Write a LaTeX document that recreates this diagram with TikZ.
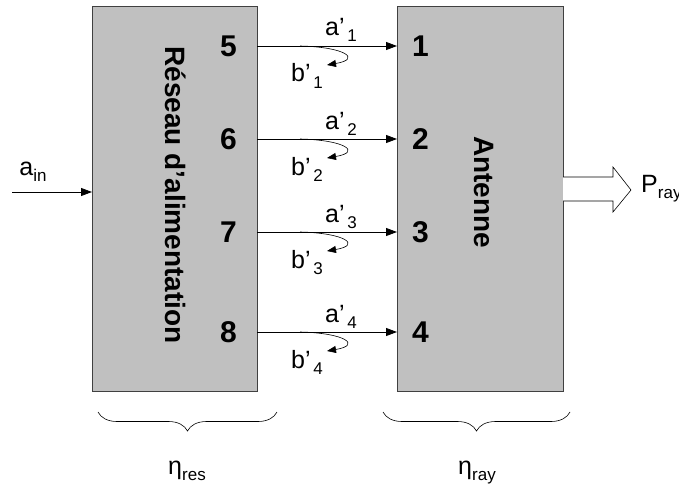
\documentclass[tikz,border=0pt]{standalone}
\usepackage{fontspec}
\setmainfont{Liberation Sans}
\usetikzlibrary{arrows.meta,decorations.pathreplacing}
\newcommand{\sbx}[1]{\raisebox{-6pt}{\fontsize{17}{17}\selectfont\,#1}}
\newcommand{\sbt}[1]{\raisebox{-6pt}{\fontsize{17}{17}\selectfont #1}}
\definecolor{boxgray}{HTML}{C0C0C0}
\definecolor{edgegray}{HTML}{404040}
\tikzset{
  blockbox/.style={draw=edgegray,line width=1pt,fill=boxgray},
  bignum/.style={font=\fontsize{30}{32}\selectfont\bfseries,inner sep=0pt},
  biglabel/.style={font=\fontsize{28}{30}\selectfont\bfseries,inner sep=0pt,rotate=-90},
  smalllabel/.style={font=\fontsize{25}{27}\selectfont,inner sep=0pt,anchor=base},
  sig/.style={line width=0.8pt,-{Triangle[length=11pt,width=8pt]}},
  curl/.style={line width=0.6pt,-{Triangle[length=9pt,width=7pt]}},
  bracestyle/.style={line width=0.6pt,decorate,decoration={brace,mirror,amplitude=19pt}}
}
\begin{document}
\begin{tikzpicture}[x=1pt,y=-1pt]
\useasboundingbox (0,0) rectangle (679,484);
% boxes
\path[blockbox] (92,7) rectangle (257,391);
\node[inner sep=0pt,minimum width=165pt,minimum height=384pt] (res) at (174.5,199) {};
\path[blockbox] (397,7) rectangle (563,391);
\node[inner sep=0pt,minimum width=166pt,minimum height=384pt] (ant) at (480,199) {};
\node[biglabel] (reslab) at (176,195) {Réseau d’alimentation};
\node[biglabel] (antlab) at (484,192) {Antenne};
% ports
\foreach \i/\j/\y in {5/1/46, 6/2/139, 7/3/232, 8/4/332}{
  \coordinate (p\i) at (257,\y);
  \coordinate (p\j) at (397,\y);
  \node[bignum] (n\i) at (228.5,\y) {\i};
  \node[bignum,anchor=west] (n\j) at (412,\y) {\j};
}
\foreach \s/\k/\y in {5/1/46, 6/2/139, 7/3/232, 8/4/332}{
  \draw[sig] (p\s) -- (p\k);
  \coordinate (c\k a) at (300,\y);
  \coordinate (c\k b) at (327,\y+19);
  \draw[curl] (c\k a) .. controls (345,\y+1) and (362,\y+13) .. (c\k b);
  \node[smalllabel] (a\k) at (341,\y-10) {a’\sbx{\k}};
  \node[smalllabel] (b\k) at (307,\y+36) {b’\sbx{\k}};
}
% input
\coordinate (ain) at (12,192);
\coordinate (resin) at (92,192);
\draw[sig] (ain) -- (resin);
\node[smalllabel] (ainlab) at (33,175) {a\sbt{in}};
% radiated power hollow arrow
\draw[line width=0.6pt,fill=white] (563,177) -- (613,177) -- (613,167) -- (631,190) -- (613,212) -- (613,201) -- (563,201);
\node[smalllabel,anchor=base west] (pray) at (641,192) {P\sbt{ray}};
% braces
\coordinate (bl1) at (98,412);
\coordinate (bl2) at (277,412);
\coordinate (br1) at (383,412);
\coordinate (br2) at (570,412);
\draw[bracestyle] (bl1) -- (bl2);
\draw[bracestyle] (br1) -- (br2);
\node[smalllabel] (etares) at (187,474) {η\sbt{res}};
\node[smalllabel] (etaray) at (477,474) {η\sbt{ray}};
\end{tikzpicture}
\end{document}
